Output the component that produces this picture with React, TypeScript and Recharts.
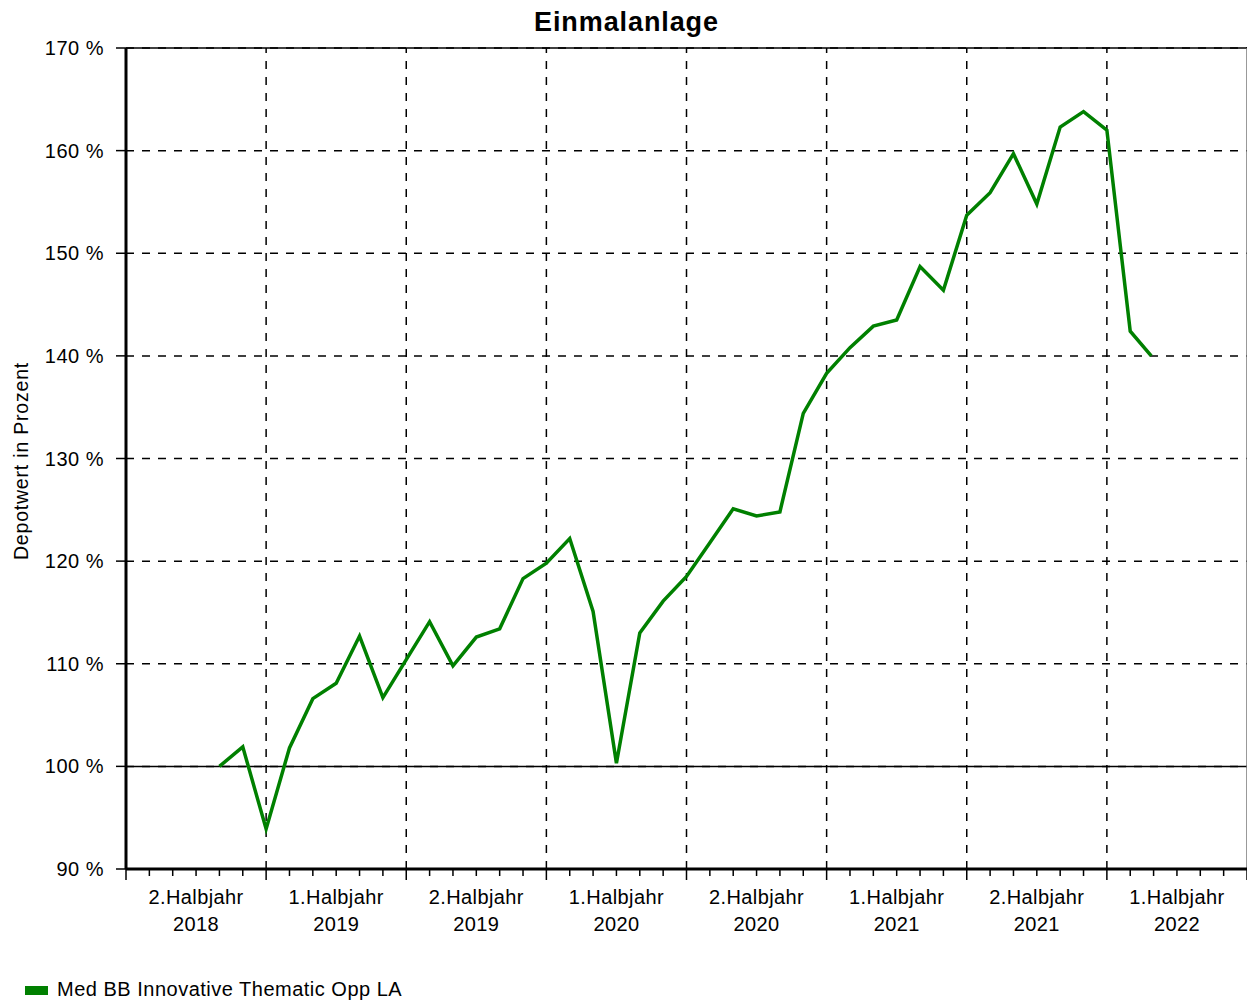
import React from 'react';
import { LineChart, Line, XAxis, YAxis, CartesianGrid, ReferenceLine } from 'recharts';

// month index: 0 = July 2018
const months = [4,5,6,7,8,9,10,11,12,13,14,15,16,17,18,19,20,21,22,23,24,25,26,27,28,29,30,31,32,33,34,35,36,37,38,39,40,41,42,43,43.9];
const values = [100.0,101.9,93.9,101.8,106.6,108.1,112.7,106.7,110.4,114.1,109.8,112.6,113.4,118.3,119.8,122.2,115.1,100.3,113.0,116.1,118.5,121.8,125.1,124.4,124.8,134.4,138.3,140.8,142.9,143.5,148.7,146.4,153.7,155.9,159.7,154.8,162.3,163.8,162.0,142.4,140.0];
const halfYearLabels = ['2.Halbjahr|2018','1.Halbjahr|2019','2.Halbjahr|2019','1.Halbjahr|2020','2.Halbjahr|2020','1.Halbjahr|2021','2.Halbjahr|2021','1.Halbjahr|2022'];
const yTicks = [90,100,110,120,130,140,150,160,170];
const halfYearBounds = [6,12,18,24,30,36,42];
const monthTicks = Array.from({ length: 49 }, (_, i) => i);
const seriesName = 'Med BB Innovative Thematic Opp LA';

const data = months.map((m, i) => ({ m, v: values[i] }));
const FONT = "Arial, 'Liberation Sans', sans-serif";

const XTick = (props: any) => {
  const { x, y, payload } = props;
  const i = payload.value as number;
  const major = i % 6 === 0;
  const label = i % 6 === 3 ? halfYearLabels[(i - 3) / 6] : null;
  return (
    <g>
      <line x1={x} x2={x} y1={y} y2={y + (major ? 11 : 7)} stroke="#000" strokeWidth={1.5} />
      {label && (
        <text x={x} y={y} textAnchor="middle" fontFamily={FONT} fontSize={20} letterSpacing={0.4} fill="#000">
          <tspan x={x} dy={35}>{label.split('|')[0]}</tspan>
          <tspan x={x} dy={27}>{label.split('|')[1]}</tspan>
        </text>
      )}
    </g>
  );
};

export default function App() {
  return (
    <div style={{ position: 'absolute', left: 0, top: 0, width: 1247, height: 1001, background: '#fff', fontFamily: FONT }}>
      <div style={{ position: 'absolute', left: 3, width: 1247, top: 7, textAlign: 'center', fontSize: 27, letterSpacing: 0.9, fontWeight: 'bold', color: '#000' }}>Einmalanlage</div>
      <div style={{ position: 'absolute', left: 21, top: 461, width: 0, height: 0 }}>
        <div style={{ position: 'absolute', transform: 'translate(-50%,-50%) rotate(-90deg)', whiteSpace: 'nowrap', fontSize: 19.5, letterSpacing: 0.8, color: '#000' }}>Depotwert in Prozent</div>
      </div>
      <LineChart width={1247} height={1001} data={data} margin={{ top: 48, right: 0, left: 0, bottom: 72 }}>
        <CartesianGrid vertical={false} stroke="#000" strokeDasharray="8 8" strokeWidth={1.5} />
        <XAxis dataKey="m" type="number" domain={[0, 48]} ticks={monthTicks} interval={0} height={60}
          axisLine={{ stroke: '#000', strokeWidth: 3 }} tickLine={false} tickSize={0} tickMargin={0} tick={<XTick />} />
        <YAxis type="number" domain={[90, 170]} ticks={yTicks} width={126} interval={0}
          axisLine={{ stroke: '#000', strokeWidth: 3 }} tickLine={{ stroke: '#000', strokeWidth: 1.5 }} tickSize={10} tickMargin={12}
          tickFormatter={(v: number) => `${v} %`} tick={{ fill: '#000', fontSize: 20, letterSpacing: 0.5, fontFamily: FONT }} />
        {halfYearBounds.map((b) => (
          <ReferenceLine key={b} x={b} stroke="#000" strokeWidth={1.5} strokeDasharray="8 8" />
        ))}
        <ReferenceLine y={100} stroke="#000" strokeWidth={1.5} />
        <ReferenceLine y={170} stroke="#000" strokeWidth={1.5} />
        <ReferenceLine x={48} stroke="#777" strokeWidth={1.5} />
        <Line dataKey="v" type="linear" stroke="#008000" strokeWidth={3.5} dot={false} isAnimationActive={false} />
      </LineChart>
      <div style={{ position: 'absolute', left: 25, top: 986, width: 23, height: 9, background: '#008000' }} />
      <div style={{ position: 'absolute', left: 57, top: 978, fontSize: 20, letterSpacing: 0.5, color: '#000', whiteSpace: 'nowrap' }}>{seriesName}</div>
    </div>
  );
}
